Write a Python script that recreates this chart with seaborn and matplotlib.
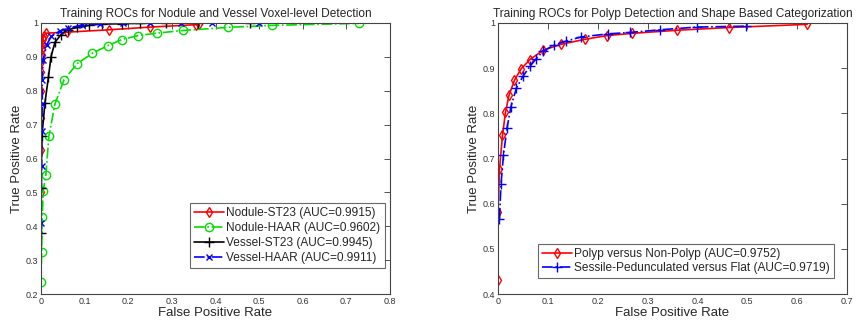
import matplotlib
matplotlib.use("Agg")
import matplotlib.pyplot as plt
import seaborn as sns
import pandas as pd

# ---- Left panel data ----
nod_st23_fpr = [0.0, 0.0, 0.0, 0.0, 0.0, 0.001, 0.002, 0.002, 0.003, 0.004, 0.007, 0.011, 0.06, 0.157, 0.251, 0.355, 0.362]
nod_st23_tpr = [0.5, 0.624, 0.719, 0.80, 0.854, 0.886, 0.906, 0.923, 0.938, 0.953, 0.963, 0.970, 0.973, 0.980, 0.988, 0.995, 0.997]
nod_haar_fpr = [0.0, 0.0015, 0.003, 0.005, 0.011, 0.018, 0.032, 0.053, 0.083, 0.118, 0.153, 0.185, 0.223, 0.265, 0.326, 0.428, 0.530, 0.730]
nod_haar_tpr = [0.236, 0.323, 0.427, 0.505, 0.550, 0.665, 0.761, 0.833, 0.880, 0.911, 0.933, 0.951, 0.963, 0.970, 0.978, 0.987, 0.993, 0.999]
ves_st23_fpr = [0.0, 0.0, 0.002, 0.009, 0.017, 0.023, 0.032, 0.046, 0.061, 0.083, 0.111, 0.139, 0.185, 0.227, 0.286, 0.361, 0.479]
ves_st23_tpr = [0.379, 0.512, 0.665, 0.764, 0.840, 0.901, 0.943, 0.966, 0.980, 0.987, 0.993, 0.997, 0.998, 0.999, 1.0, 1.0, 1.0]
ves_haar_fpr = [0.0, 0.0015, 0.0015, 0.003, 0.003, 0.005, 0.013, 0.024, 0.044, 0.063, 0.093, 0.135, 0.189, 0.25, 0.322, 0.393, 0.5]
ves_haar_tpr = [0.409, 0.578, 0.682, 0.762, 0.833, 0.892, 0.936, 0.961, 0.977, 0.985, 0.994, 0.997, 1.0, 1.0, 1.0, 1.0, 1.0]

# ---- Right panel data ----
polyp_fpr = [0.0, 0.0, 0.003, 0.009, 0.015, 0.022, 0.033, 0.046, 0.064, 0.091, 0.127, 0.175, 0.218, 0.268, 0.360, 0.463, 0.620]
polyp_tpr = [0.431, 0.582, 0.676, 0.751, 0.802, 0.840, 0.873, 0.898, 0.919, 0.940, 0.953, 0.964, 0.972, 0.977, 0.984, 0.990, 0.997]
sess_fpr = [0.003, 0.006, 0.011, 0.018, 0.026, 0.037, 0.050, 0.064, 0.076, 0.090, 0.112, 0.137, 0.166, 0.221, 0.265, 0.325, 0.399, 0.498]
sess_tpr = [0.567, 0.643, 0.708, 0.767, 0.815, 0.856, 0.882, 0.904, 0.920, 0.937, 0.951, 0.960, 0.969, 0.976, 0.979, 0.985, 0.991, 0.993]

left_labels = ["Nodule-ST23 (AUC=0.9915)", "Nodule-HAAR (AUC=0.9602)",
               "Vessel-ST23 (AUC=0.9945)", "Vessel-HAAR (AUC=0.9911)"]
right_labels = ["Polyp versus Non-Polyp (AUC=0.9752)",
                "Sessile-Pedunculated versus Flat (AUC=0.9719)"]
left_title = "Training ROCs for Nodule and Vessel Voxel-level Detection"
right_title = "Training ROCs for Polyp Detection and Shape Based Categorization"

sns.set_style("white")
plt.rcParams['font.family'] = ['Liberation Sans', 'DejaVu Sans']

fig = plt.figure(figsize=(8.57, 3.25), dpi=100)
axL = fig.add_axes([41/857, 1-294/325, (390-41)/857, (294-23)/325])
axR = fig.add_axes([498/857, 1-294/325, (847-498)/857, (294-23)/325])

def draw(ax, x, y, label, color, ls, marker, ms, mew=1.0, lw=1.2):
    df = pd.DataFrame({"fpr": x, "tpr": y})
    sns.lineplot(data=df, x="fpr", y="tpr", ax=ax, sort=False, estimator=None,
                 color=color, linestyle=ls, marker=marker, markersize=ms,
                 markerfacecolor='none', markeredgecolor=color,
                 markeredgewidth=mew, linewidth=lw, label=label)

draw(axL, nod_st23_fpr, nod_st23_tpr, left_labels[0], '#ff0000', '-', 'd', 5)
draw(axL, nod_haar_fpr, nod_haar_tpr, left_labels[1], '#00e000', '-.', 'o', 6)
draw(axL, ves_st23_fpr, ves_st23_tpr, left_labels[2], 'black', '-', '+', 7)
draw(axL, ves_haar_fpr, ves_haar_tpr, left_labels[3], '#0000ff', '-.', 'x', 5)

draw(axR, polyp_fpr, polyp_tpr, right_labels[0], '#ff0000', '-', 'd', 5)
draw(axR, sess_fpr, sess_tpr, right_labels[1], '#0000ff', '-.', '+', 7)

def style(ax, xlim, ylim, xticks, yticks, title):
    ax.set_xlim(*xlim)
    ax.set_ylim(*ylim)
    ax.set_xticks(xticks)
    ax.set_yticks(yticks)
    ax.set_xticklabels([("%g" % t) for t in xticks])
    ax.set_yticklabels([("%g" % t) for t in yticks])
    ax.tick_params(direction='in', length=4, width=0.6, labelsize=6.5,
                   top=True, right=True, pad=2, colors='#333333')
    for s in ax.spines.values():
        s.set_color('#444444')
        s.set_linewidth(0.8)
    ax.set_xlabel("False Positive Rate", fontsize=9.5, labelpad=1)
    ax.set_ylabel("True Positive Rate", fontsize=9.5, labelpad=2)
    ax.set_title(title, fontsize=8.6, pad=4)

style(axL, (0, 0.8), (0.2, 1.0), [0, 0.1, 0.2, 0.3, 0.4, 0.5, 0.6, 0.7, 0.8],
      [0.2, 0.3, 0.4, 0.5, 0.6, 0.7, 0.8, 0.9, 1.0], left_title)
style(axR, (0, 0.7), (0.4, 1.0), [0, 0.1, 0.2, 0.3, 0.4, 0.5, 0.6, 0.7],
      [0.4, 0.5, 0.6, 0.7, 0.8, 0.9, 1.0], right_title)

leg_kw = dict(frameon=True, fancybox=False, edgecolor='#444444', handlelength=2.5,
              handletextpad=0.2, borderpad=0.35, borderaxespad=0, fontsize=8.6)
legL = axL.legend(loc='lower left', bbox_to_anchor=((190-41)/349, (294-268)/271),
                  labelspacing=0.25, **leg_kw)
legL.get_frame().set_linewidth(0.8)
legR = axR.legend(loc='lower left', bbox_to_anchor=((538-498)/349, (294-278)/271),
                  labelspacing=0.15, **leg_kw)
legR.get_frame().set_linewidth(0.8)

fig.savefig("out.png", dpi=100, facecolor='white')
